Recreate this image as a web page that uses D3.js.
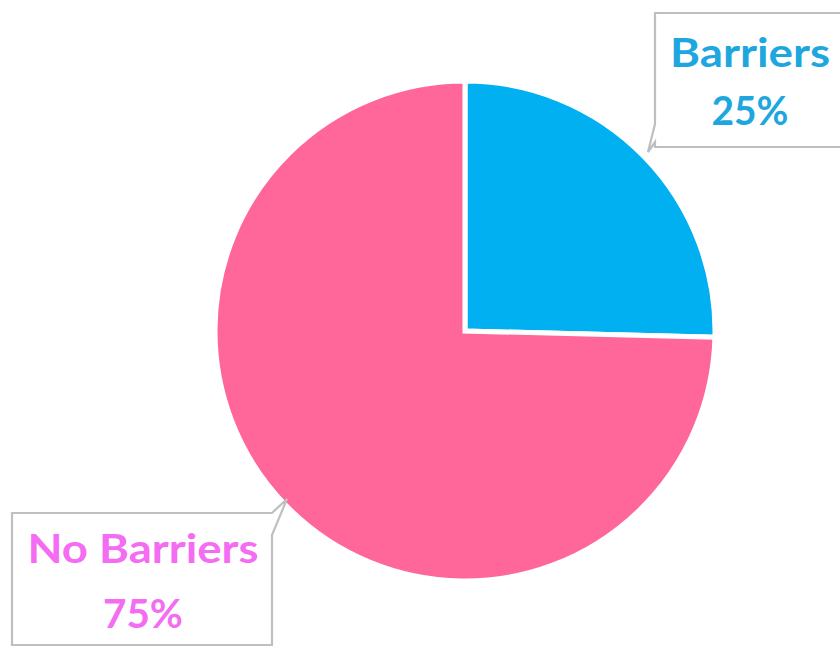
<!DOCTYPE html>
<html>
<head>
<meta charset="utf-8">
<script src="https://cdn.jsdelivr.net/npm/d3@7"></script>
<style>
  html, body { margin: 0; padding: 0; background: #ffffff; }
  svg { display: block; }
</style>
</head>
<body>
<svg id="chart" width="840" height="648"></svg>
<script>
const categories = ["Barriers", "No Barriers"];
const values = [25.4, 74.6];
const percentLabels = ["25%", "75%"];
const sliceColors = ["#00B0F0", "#FF6699"];
const labelColors = ["#1EA7DF", "#F46CF2"];

const svg = d3.select("#chart");
const W = 840, H = 648;
const cx = 465, cy = 331, r = 250;

const pie = d3.pie().sort(null).value(d => d)(values);
const arc = d3.arc().innerRadius(0).outerRadius(r);

const g = svg.append("g").attr("transform", `translate(${cx},${cy})`);
g.selectAll("path.slice")
  .data(pie)
  .join("path")
  .attr("class", "slice")
  .attr("d", arc)
  .attr("fill", (d, i) => sliceColors[i])
  .attr("stroke", "#ffffff")
  .attr("stroke-width", 5)
  .attr("stroke-linejoin", "miter");

// callout boxes
const callouts = [
  { path: "M655,13 H848 V147 H655 V142 L648,152 L655,124 Z",
    lines: [{ t: categories[0], x: 750, y: 67, w: 160 }, { t: percentLabels[0], x: 750, y: 125, w: 77 }] },
  { path: "M12,513 H272 L287,499 L272,535 V645 H12 Z",
    lines: [{ t: categories[1], x: 143, y: 563, w: 231 }, { t: percentLabels[1], x: 143, y: 628, w: 80 }] }
];

callouts.forEach((c, i) => {
  svg.append("path")
    .attr("d", c.path)
    .attr("fill", "#ffffff")
    .attr("stroke", "#BFBFBF")
    .attr("stroke-width", 2.2)
    .attr("stroke-linejoin", "miter");
  c.lines.forEach(l => {
    svg.append("text")
      .attr("x", l.x)
      .attr("y", l.y)
      .attr("text-anchor", "middle")
      .attr("font-family", "Lato, 'Open Sans', sans-serif")
      .attr("font-weight", "bold")
      .attr("font-size", 41)
      .attr("fill", labelColors[i])
      .attr("textLength", l.w)
      .attr("lengthAdjust", "spacingAndGlyphs")
      .text(l.t);
  });
});
</script>
</body>
</html>
